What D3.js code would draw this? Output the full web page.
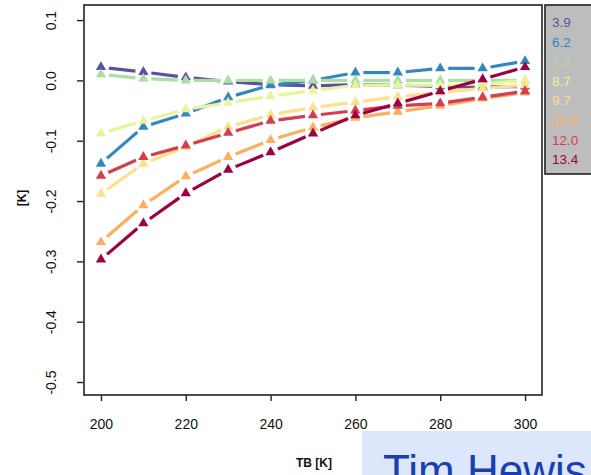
<!DOCTYPE html>
<html>
<head>
<meta charset="utf-8">
<script src="https://cdn.jsdelivr.net/npm/d3@7"></script>
<style>
  html, body { margin: 0; padding: 0; background: #fff; }
  svg { display: block; }
  text { font-family: "Liberation Sans", Arial, sans-serif; }
</style>
</head>
<body>
<svg id="chart" width="591" height="475"></svg>
<script>
// Brightness temperature grid [K]
const tb = [200, 210, 220, 230, 240, 250, 260, 270, 280, 290, 300];

// Series labels (legend) and their differences [K] at each TB
const seriesLabels = ["3.9", "6.2", "7.3", "8.7", "9.7", "10.8", "12.0", "13.4"];
const s39  = [0.022, 0.014, 0.005, -0.002, -0.007, -0.009, -0.007, -0.008, -0.010, -0.011, -0.010];
const s62  = [-0.138, -0.077, -0.055, -0.028, -0.008, 0.000, 0.013, 0.013, 0.020, 0.020, 0.032];
const s73  = [0.010, 0.003, 0.000, 0.000, 0.000, 0.000, 0.000, 0.000, 0.000, 0.000, 0.000];
const s87  = [-0.088, -0.067, -0.048, -0.037, -0.026, -0.017, -0.008, -0.008, -0.008, -0.006, 0.000];
const s97  = [-0.188, -0.138, -0.110, -0.077, -0.057, -0.045, -0.036, -0.027, -0.020, -0.013, -0.008];
const s108 = [-0.268, -0.207, -0.159, -0.127, -0.099, -0.078, -0.062, -0.052, -0.042, -0.030, -0.020];
const s120 = [-0.158, -0.127, -0.108, -0.087, -0.067, -0.058, -0.050, -0.042, -0.038, -0.028, -0.018];
const s134 = [-0.297, -0.237, -0.187, -0.148, -0.119, -0.088, -0.058, -0.038, -0.018, 0.002, 0.022];
const seriesValues = [s39, s62, s73, s87, s97, s108, s120, s134];

// Axis ticks
const xTicks = [200, 220, 240, 260, 280, 300];
const yTicks = [0.1, 0.0, -0.1, -0.2, -0.3, -0.4, -0.5];

// Spectral palette, one colour per series
const palette = ["#5e4fa2", "#3288bd", "#abdda4", "#e6f598", "#fee08b", "#fdae61", "#d53e4f", "#9e0142"];

const svg = d3.select("#chart");
svg.append("rect").attr("width", 591).attr("height", 475).attr("fill", "#fff");

const plot = { left: 84, right: 542, top: 5, bottom: 395 };

const x = d3.scaleLinear().domain([196, 304]).range([plot.left, plot.right]);
const y = d3.scaleLinear().domain([0.125, -0.5215]).range([plot.top, plot.bottom]);

// Lines with gaps around each point, then triangle markers
const gap = 8;
const tri = d3.symbol().type(d3.symbolTriangle).size(46);

seriesValues.forEach((vals, i) => {
  const g = svg.append("g").attr("class", "series");
  const pts = tb.map((t, j) => [x(t), y(vals[j])]);
  for (let j = 0; j < pts.length - 1; j++) {
    const [x0, y0] = pts[j], [x1, y1] = pts[j + 1];
    const dx = x1 - x0, dy = y1 - y0, len = Math.hypot(dx, dy);
    if (len <= 2 * gap) continue;
    const ux = dx / len, uy = dy / len;
    g.append("line")
      .attr("x1", x0 + ux * gap).attr("y1", y0 + uy * gap)
      .attr("x2", x1 - ux * gap).attr("y2", y1 - uy * gap)
      .attr("stroke", palette[i]).attr("stroke-width", 3.2)
      .attr("stroke-linecap", "butt");
  }
  g.selectAll("path.pt").data(pts).join("path")
    .attr("class", "pt")
    .attr("d", tri)
    .attr("transform", d => `translate(${d[0]},${d[1]})`)
    .attr("fill", palette[i]);
});

// Plot frame
svg.append("rect")
  .attr("x", plot.left).attr("y", plot.top)
  .attr("width", plot.right - plot.left).attr("height", plot.bottom - plot.top)
  .attr("fill", "none").attr("stroke", "#222").attr("stroke-width", 1.6);

// X axis
const xAxis = svg.append("g")
  .attr("transform", `translate(0,${plot.bottom})`)
  .call(d3.axisBottom(x).tickValues(xTicks).tickSize(6).tickPadding(18).tickFormat(d3.format("d")));
xAxis.select(".domain").remove();
xAxis.selectAll("line").attr("stroke", "#222").attr("stroke-width", 1.4);
xAxis.selectAll("text")
  .attr("font-size", 14).attr("fill", "#111")
  .attr("font-family", "Liberation Sans, Arial, sans-serif");

// Y axis with rotated labels
const yAxis = svg.append("g")
  .attr("transform", `translate(${plot.left - 1},0)`)
  .call(d3.axisLeft(y).tickValues(yTicks).tickSize(6).tickFormat(d => d.toFixed(1)));
yAxis.select(".domain").remove();
yAxis.selectAll("line").attr("stroke", "#222").attr("stroke-width", 1.4);
yAxis.selectAll("text")
  .attr("transform", "rotate(-90)")
  .attr("x", 0).attr("y", -32).attr("dy", "0.35em")
  .attr("text-anchor", "middle")
  .attr("font-size", 14).attr("fill", "#111")
  .attr("font-family", "Liberation Sans, Arial, sans-serif");

// Axis titles
svg.append("text")
  .attr("transform", "translate(22,198) rotate(-90)")
  .attr("text-anchor", "middle").attr("dy", "0.35em")
  .attr("font-size", 12).attr("font-weight", "bold").attr("fill", "#111")
  .text("[K]");
svg.append("text")
  .attr("x", 314).attr("y", 467)
  .attr("text-anchor", "middle")
  .attr("font-size", 12).attr("font-weight", "bold").attr("fill", "#111")
  .text("TB [K]");

// Legend
const legend = svg.append("g");
legend.append("rect")
  .attr("x", 545).attr("y", 5).attr("width", 60).attr("height", 169)
  .attr("fill", "#bdbdbd").attr("stroke", "#222").attr("stroke-width", 1.6);
legend.selectAll("text").data(seriesLabels).join("text")
  .attr("x", 552)
  .attr("y", (d, i) => 27 + i * 19.6)
  .attr("font-size", 13.5)
  .attr("fill", (d, i) => palette[i])
  .text(d => d);

// Name banner in the lower right corner
svg.append("rect")
  .attr("x", 362).attr("y", 431).attr("width", 229).attr("height", 44)
  .attr("fill", "#dde7fb");
svg.append("text")
  .attr("x", 383).attr("y", 486)
  .attr("font-size", 44).attr("fill", "#1a3fae")
  .text("Tim Hewis");
</script>
</body>
</html>
